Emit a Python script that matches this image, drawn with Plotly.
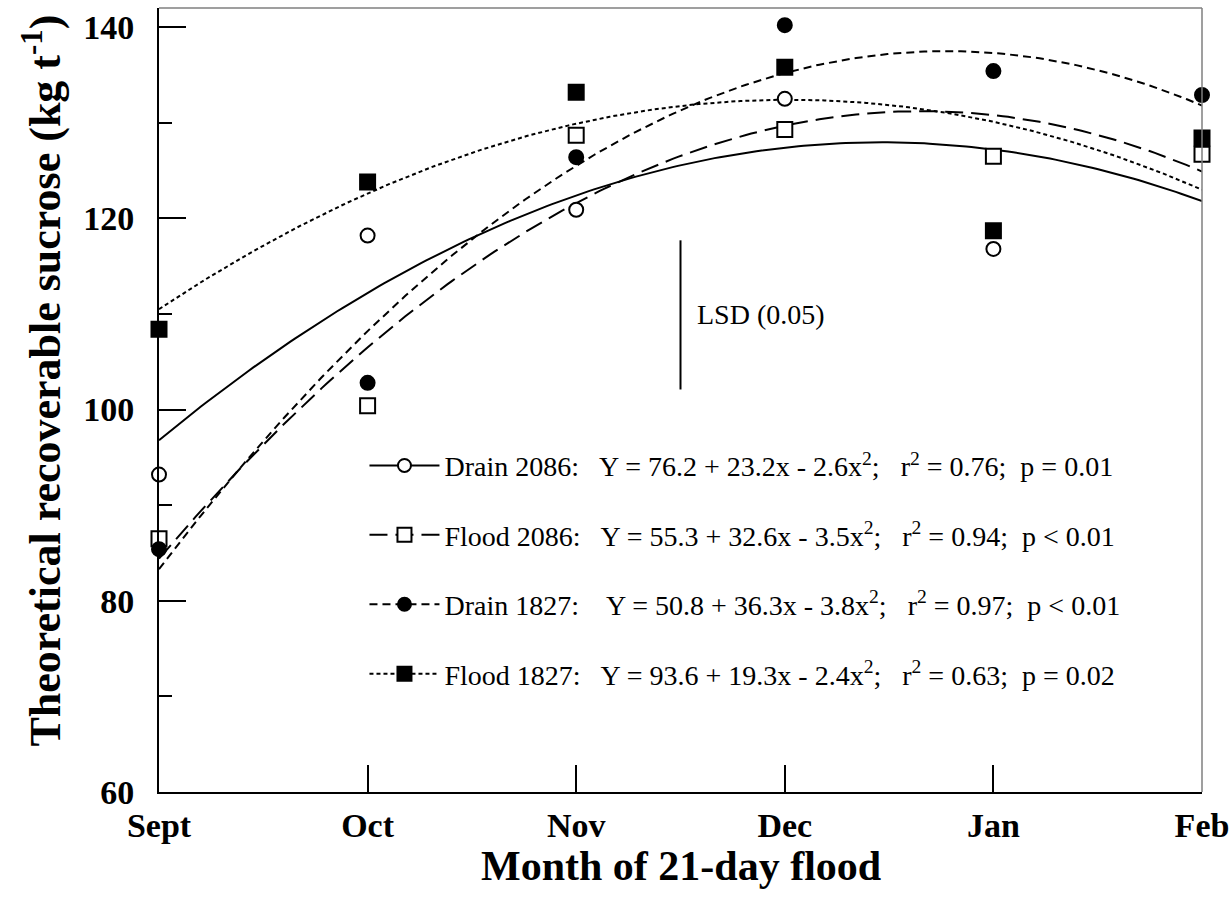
import numpy as np
import plotly.graph_objects as go

# ---------------- data ----------------
months = ["Sept", "Oct", "Nov", "Dec", "Jan", "Feb"]
month_x = [1, 2, 3, 4, 5, 6]

drain_2086 = [93.2, 118.2, 120.9, 132.5, 116.8, 128.2]
flood_2086 = [86.5, 100.4, 128.7, 129.3, 126.5, 126.7]
drain_1827 = [85.4, 102.8, 126.4, 140.2, 135.4, 132.9]
flood_1827 = [108.4, 123.8, 133.2, 135.8, 118.7, 128.4]

# fitted quadratic coefficients (b0, b1, b2) as printed on the chart
coef_drain_2086 = [76.2, 23.2, -2.6]
coef_flood_2086 = [55.3, 32.6, -3.5]
coef_drain_1827 = [50.8, 36.3, -3.8]
coef_flood_1827 = [93.6, 19.3, -2.4]

series_names = ["Drain 2086:", "Flood 2086:", "Drain 1827:", "Flood 1827:"]
equations = [
    "Y = 76.2 + 23.2x - 2.6x<sup>2</sup>;   r<sup>2</sup> = 0.76;  p = 0.01",
    "Y = 55.3 + 32.6x - 3.5x<sup>2</sup>;   r<sup>2</sup> = 0.94;  p < 0.01",
    " Y = 50.8 + 36.3x - 3.8x<sup>2</sup>;   r<sup>2</sup> = 0.97;  p < 0.01",
    "Y = 93.6 + 19.3x - 2.4x<sup>2</sup>;   r<sup>2</sup> = 0.63;  p = 0.02",
]

lsd_x = 3.5
lsd_low = 102.1
lsd_high = 117.7
lsd_label = "LSD (0.05)"

x_title = "Month of 21-day flood"
y_title = "Theoretical recoverable sucrose (kg t<sup>-1</sup>)"

# ---------------- styling ----------------
FONT = "Liberation Serif"
styles = [
    dict(dash="solid", symbol="circle", fill="white", size=14),
    dict(dash="18px,8px", symbol="square", fill="white", size=15),
    dict(dash="8px,5px", symbol="circle", fill="black", size=14),
    dict(dash="4px,3px", symbol="square", fill="black", size=15),
]
values = [drain_2086, flood_2086, drain_1827, flood_1827]
coefs = [coef_drain_2086, coef_flood_2086, coef_drain_1827, coef_flood_1827]

fig = go.Figure()

xs = np.linspace(month_x[0], month_x[-1], 200)

# fitted curves
for coef, st in zip(coefs, styles):
    ys = coef[0] + coef[1] * xs + coef[2] * xs ** 2
    fig.add_trace(go.Scatter(
        x=xs, y=ys, mode="lines", showlegend=False, hoverinfo="skip",
        line=dict(color="black", width=2, dash=st["dash"]),
    ))

# observed points
for vals, st in zip(values, styles):
    fig.add_trace(go.Scatter(
        x=month_x, y=vals, mode="markers", showlegend=False, cliponaxis=False,
        marker=dict(symbol=st["symbol"], size=st["size"], color=st["fill"],
                    line=dict(color="black", width=2)),
    ))

# legend entries
for i, (name, eq, st) in enumerate(zip(series_names, equations, styles)):
    fig.add_trace(go.Scatter(
        x=[None], y=[None], mode="lines+markers",
        name=name + "   " + eq, legendgroup=f"g{i}",
        line=dict(color="black", width=2, dash=st["dash"]),
        marker=dict(symbol=st["symbol"], size=st["size"] - 1, color=st["fill"],
                    line=dict(color="black", width=2)),
    ))

# LSD bar
fig.add_trace(go.Scatter(
    x=[lsd_x, lsd_x], y=[lsd_low, lsd_high], mode="lines", showlegend=False,
    line=dict(color="black", width=2), hoverinfo="skip",
))
fig.add_annotation(
    x=lsd_x, y=(lsd_low + lsd_high) / 2, text=lsd_label, showarrow=False,
    xanchor="left", yanchor="middle", xshift=14,
    font=dict(family=FONT, size=28, color="black"),
)

# axis titles
fig.add_annotation(
    xref="paper", yref="paper", x=-0.112, y=0.525, text=y_title,
    textangle=-90, showarrow=False, xanchor="center", yanchor="middle",
    font=dict(family=FONT, size=44, color="black", weight="bold"),
)
fig.add_annotation(
    xref="paper", yref="paper", x=0.5, y=-0.062, text=x_title,
    showarrow=False, xanchor="center", yanchor="top",
    font=dict(family=FONT, size=42, color="black", weight="bold"),
)

# top / right frame (grey)
fig.add_shape(type="line", xref="paper", yref="paper", x0=0, x1=1, y0=1, y1=1,
              line=dict(color="#7f7f7f", width=1.5))
fig.add_shape(type="line", xref="paper", yref="paper", x0=1, x1=1, y0=0, y1=1,
              line=dict(color="#7f7f7f", width=1.5))

fig.update_layout(
    width=1232, height=908,
    margin=dict(l=159, r=30, t=8, b=116, autoexpand=False),
    paper_bgcolor="white", plot_bgcolor="white",
    font=dict(family=FONT, color="black"),
    legend=dict(
        x=0.197, y=0.448, xanchor="left", yanchor="top",
        bgcolor="rgba(0,0,0,0)", borderwidth=0,
        font=dict(family=FONT, size=28, color="black"),
        tracegroupgap=30, itemwidth=70, itemclick=False,
    ),
    xaxis=dict(
        range=[1, 6], tickvals=month_x, ticktext=months,
        ticks="inside", ticklen=27, tickwidth=1.5, tickcolor="black",
        showline=True, linecolor="black", linewidth=2, mirror=False,
        showgrid=False, zeroline=False, automargin=False,
        tickfont=dict(family=FONT, size=34, color="black", weight="bold"),
        ticklabelstandoff=2, ticklabeloverflow="allow",
    ),
    yaxis=dict(
        range=[60, 142], tick0=60, dtick=20,
        ticks="inside", ticklen=27, tickwidth=1.5, tickcolor="black",
        minor=dict(dtick=10, tick0=60, ticks="inside", ticklen=13,
                   tickwidth=1.5, tickcolor="black", showgrid=False),
        showline=True, linecolor="black", linewidth=2, mirror=False,
        showgrid=False, zeroline=False, automargin=False,
        tickfont=dict(family=FONT, size=34, color="black", weight="bold"),
        ticklabelstandoff=16, ticklabeloverflow="allow",
    ),
)

fig.write_html("out.html", config={"displayModeBar": False},
               post_script="document.body.style.margin='0';document.body.style.overflow='hidden';")
